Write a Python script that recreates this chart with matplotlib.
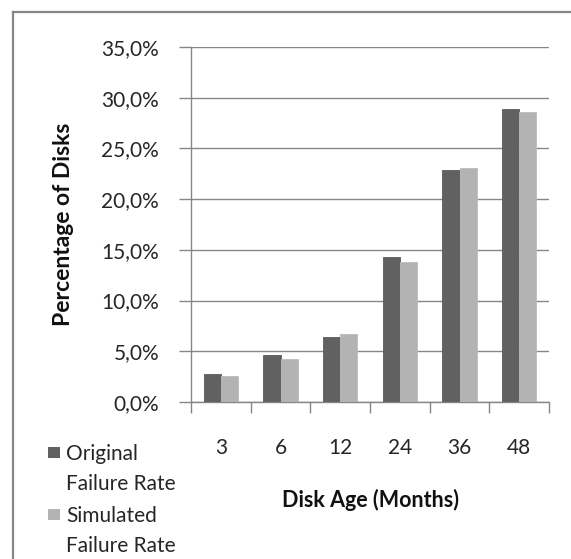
import matplotlib
matplotlib.use("Agg")
import matplotlib.pyplot as plt
import numpy as np
from matplotlib.lines import Line2D
from matplotlib.patches import Rectangle
from matplotlib.ticker import FuncFormatter

plt.rcParams['font.family'] = ['Lato', 'DejaVu Sans']

# Data
ages = ["3", "6", "12", "24", "36", "48"]
original_rate = [2.8, 4.6, 6.4, 14.3, 22.9, 28.9]
simulated_rate = [2.6, 4.2, 6.7, 13.8, 23.1, 28.6]
series_labels = ["Original\nFailure Rate", "Simulated\nFailure Rate"]
y_ticks = [0, 5, 10, 15, 20, 25, 30, 35]

W, H = 571, 559
fig = plt.figure(figsize=(W / 100, H / 100), dpi=100)
fig.patch.set_facecolor("white")

frame_color = "#868686"
grid_color = "#878787"
text_color = "#262626"

# Chart-area frame (left and top edges)
fig.add_artist(Line2D([13 / W, 13 / W], [0, 1 - 12 / H], transform=fig.transFigure,
                      color=frame_color, lw=1.6))
fig.add_artist(Line2D([13 / W, 1], [1 - 12 / H, 1 - 12 / H], transform=fig.transFigure,
                      color=frame_color, lw=1.6))

left, right, top, bottom = 191, 549, 47, 402
ax = fig.add_axes([left / W, 1 - bottom / H, (right - left) / W, (bottom - top) / H])

x = np.arange(len(ages))
bw = 0.29
b1 = ax.bar(x - bw / 2, original_rate, width=bw, color="#616161", edgecolor="#5a5a5a",
            linewidth=0.6, label=series_labels[0], zorder=3)
b2 = ax.bar(x + bw / 2, simulated_rate, width=bw, color="#b3b3b3", edgecolor="#bcbcbc",
            linewidth=0.6, label=series_labels[1], zorder=3)

ax.set_xlim(-0.5, len(ages) - 0.5)
ax.set_ylim(0, 35)
ax.set_yticks(y_ticks)
ax.yaxis.set_major_formatter(FuncFormatter(lambda v, p: f"{v:.1f}%".replace(".", ",")))
ax.set_xticks(x)
ax.set_xticklabels(ages)
ax.set_xticks(np.arange(-0.5, len(ages)), minor=True)

ax.grid(axis="y", color=grid_color, lw=1.0, zorder=0)
for s in ["top", "right"]:
    ax.spines[s].set_visible(False)
for s in ["left", "bottom"]:
    ax.spines[s].set_color(frame_color)
    ax.spines[s].set_linewidth(1.0)

ax.tick_params(axis="y", length=9, color=frame_color, width=1.0, pad=14,
               labelsize=15, labelcolor=text_color)
ax.tick_params(axis="x", which="major", length=0, pad=26, labelsize=15,
               labelcolor=text_color)
ax.tick_params(axis="x", which="minor", length=8, color=frame_color, width=1.0)

ax.set_ylabel("Percentage of Disks", fontsize=16.5, fontweight="bold", labelpad=20,
              color="#111111")
ax.set_xlabel("Disk Age (Months)", fontsize=15.5, fontweight="bold", labelpad=22,
              color="#111111")

# Legend: colour square beside a two-line label
legend_rows = [(b1.patches[0].get_facecolor(), series_labels[0], 447),
               (b2.patches[0].get_facecolor(), series_labels[1], 509)]
for color, label, ytop in legend_rows:
    fig.add_artist(Rectangle((48 / W, 1 - (ytop + 11) / H), 12 / W, 11 / H,
                             transform=fig.transFigure, facecolor=color,
                             edgecolor="none"))
    fig.text(66 / W, 1 - (ytop - 3) / H, label, fontsize=15, color=text_color,
             ha="left", va="top", linespacing=1.6)

fig.savefig("out.png", dpi=100)
